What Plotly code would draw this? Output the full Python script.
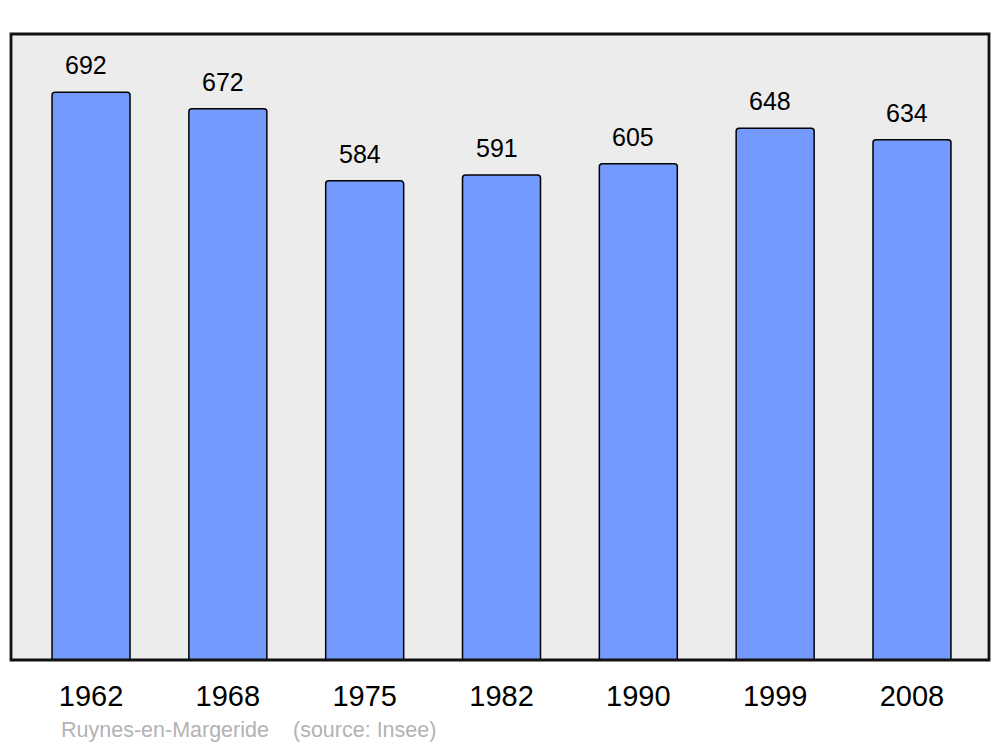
import plotly.graph_objects as go

years = ["1962", "1968", "1975", "1982", "1990", "1999", "2008"]
population = [692, 672, 584, 591, 605, 648, 634]
commune = "Ruynes-en-Margeride"
source = "(source: Insee)"

FONT = "Liberation Sans, Arial, sans-serif"

# page body has an 8px margin; compensate so the figure sits as in the reference
W, H = 992, 739
L, T = 3, 26
PW, PH = 978, 626

fig = go.Figure()
fig.add_trace(go.Bar(
    x=years, y=population,
    width=0.57,
    marker=dict(color="#7499ff", line=dict(color="#000000", width=1.5), cornerradius=3),
    hoverinfo="x+y",
))

for i, v in enumerate(population):
    fig.add_annotation(x=i, y=v, text=str(v), showarrow=False,
                       yanchor="bottom", yshift=11, xshift=-5,
                       font=dict(family=FONT, size=25, color="#000000"))

fig.add_annotation(xref="paper", yref="paper", x=(59 - 11) / PW, y=-(730 - 660) / PH,
                   text=commune, showarrow=False, xanchor="left", yanchor="middle",
                   font=dict(family=FONT, size=21.5, color="#b3b3b3"))
fig.add_annotation(xref="paper", yref="paper", x=(291 - 11) / PW, y=-(730 - 660) / PH,
                   text=source, showarrow=False, xanchor="left", yanchor="middle",
                   font=dict(family=FONT, size=21.5, color="#b3b3b3"))

fig.add_shape(type="rect", xref="paper", yref="paper", x0=0, y0=0, x1=1, y1=1,
              line=dict(color="#111111", width=2.8), layer="above")

fig.update_layout(
    width=W, height=H,
    margin=dict(l=L, r=W - L - PW, t=T, b=H - T - PH),
    paper_bgcolor="#ffffff", plot_bgcolor="#ececec",
    showlegend=False,
    xaxis=dict(type="category", range=[-0.585, 6.563], showgrid=False, zeroline=False,
               tickfont=dict(family=FONT, size=29, color="#000000"), ticks="", showline=False,
               ticklabelstandoff=16),
    yaxis=dict(range=[0, 763], showgrid=False, zeroline=False, showticklabels=False, showline=False),
)

fig.write_html("out.html")
